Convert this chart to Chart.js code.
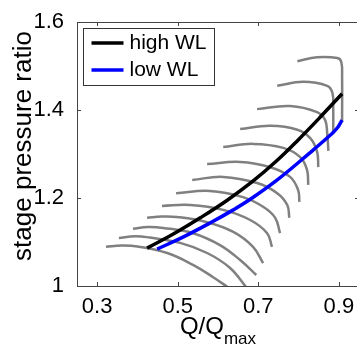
<!DOCTYPE html>
<html>
<head>
    <script src="https://cdn.jsdelivr.net/npm/chart.js@4"></script>
    <style>
        html, body { margin: 0; padding: 0; overflow: hidden; background: #fff; }
    </style>
</head>
<body>
  <canvas id="chart" width="361" height="347"></canvas>
  <script>
    // operating lines (working lines)
    const highWLQ  = [0.424, 0.489, 0.556, 0.623, 0.685, 0.745, 0.799, 0.854, 0.908];
    const highWLPR = [1.086, 1.118, 1.155, 1.195, 1.237, 1.284, 1.332, 1.384, 1.437];
    const lowWLQ   = [0.449, 0.513, 0.580, 0.638, 0.680, 0.747, 0.836, 0.879, 0.896, 0.908];
    const lowWLPR  = [1.084, 1.111, 1.143, 1.173, 1.197, 1.241, 1.309, 1.343, 1.359, 1.377];

    // speed lines, lowest speed first
    const speedQ = [
        [0.322, 0.360, 0.400, 0.474, 0.538, 0.588, 0.628],
        [0.354, 0.394, 0.431, 0.506, 0.573, 0.630, 0.672],
        [0.389, 0.426, 0.464, 0.538, 0.605, 0.655, 0.695],
        [0.424, 0.460, 0.498, 0.573, 0.638, 0.687, 0.712],
        [0.461, 0.531, 0.613, 0.680, 0.722, 0.734],
        [0.496, 0.580, 0.662, 0.712, 0.742, 0.754],
        [0.536, 0.613, 0.697, 0.747, 0.772, 0.777],
        [0.573, 0.655, 0.730, 0.779, 0.799, 0.802],
        [0.613, 0.687, 0.762, 0.804, 0.821, 0.824],
        [0.655, 0.730, 0.797, 0.829, 0.846, 0.849],
        [0.697, 0.779, 0.846, 0.866, 0.871, 0.874],
        [0.747, 0.811, 0.871, 0.884, 0.886, 0.886],
        [0.797, 0.846, 0.896, 0.906, 0.908, 0.908]
    ];
    const speedPR = [
        [1.089, 1.092, 1.090, 1.075, 1.048, 1.020, 0.995],
        [1.109, 1.113, 1.110, 1.098, 1.075, 1.041, 0.995],
        [1.130, 1.134, 1.132, 1.120, 1.093, 1.059, 1.025],
        [1.155, 1.158, 1.157, 1.145, 1.123, 1.089, 1.052],
        [1.182, 1.184, 1.173, 1.150, 1.120, 1.089],
        [1.211, 1.216, 1.202, 1.180, 1.155, 1.120],
        [1.241, 1.248, 1.234, 1.211, 1.184, 1.155],
        [1.277, 1.282, 1.270, 1.248, 1.218, 1.191],
        [1.316, 1.323, 1.314, 1.293, 1.264, 1.230],
        [1.357, 1.364, 1.355, 1.336, 1.305, 1.270],
        [1.402, 1.409, 1.395, 1.377, 1.348, 1.307],
        [1.455, 1.464, 1.455, 1.439, 1.405, 1.345],
        [1.511, 1.520, 1.518, 1.509, 1.475, 1.373]
    ];

    const xTicks = [0.3, 0.5, 0.7, 0.9];
    const xTickLabels = ['0.3', '0.5', '0.7', '0.9'];
    const yTicks = [1, 1.2, 1.4, 1.6];
    const yTickLabels = ['1', '1.2', '1.4', '1.6'];

    const FONT = "'Liberation Sans', Arial, sans-serif";

    function pts(xs, ys) {
        return xs.map((x, i) => ({ x: x, y: ys[i] }));
    }

    const datasets = [
        { label: 'high WL', data: pts(highWLQ, highWLPR), borderColor: '#000000', borderWidth: 3.5, order: 0 },
        { label: 'low WL', data: pts(lowWLQ, lowWLPR), borderColor: '#0000ff', borderWidth: 3.5, order: 0 }
    ];
    speedQ.forEach((q, i) => {
        datasets.push({ label: 'speed ' + (i + 1), data: pts(q, speedPR[i]), borderColor: '#808080', borderWidth: 2.5, order: 1 });
    });

    // box, inward ticks, legend and axis labels (x label has a subscript)
    const matlabLook = {
        id: 'matlabLook',
        afterDraw(chart) {
            const { ctx, chartArea: a, scales: { x, y } } = chart;
            ctx.save();
            ctx.strokeStyle = '#444';
            ctx.lineWidth = 1;
            ctx.strokeRect(a.left + 0.5, a.top + 0.5, a.right - a.left, a.bottom - a.top);
            ctx.beginPath();
            xTicks.forEach(v => {
                const px = Math.round(x.getPixelForValue(v)) + 0.5;
                ctx.moveTo(px, a.bottom); ctx.lineTo(px, a.bottom - 4);
                ctx.moveTo(px, a.top); ctx.lineTo(px, a.top + 4);
            });
            yTicks.forEach(v => {
                const py = Math.round(y.getPixelForValue(v)) + 0.5;
                ctx.moveTo(a.left, py); ctx.lineTo(a.left + 4, py);
                ctx.moveTo(a.right, py); ctx.lineTo(a.right - 4, py);
            });
            ctx.stroke();

            // legend
            const bx = a.left + 6.5, by = a.top + 6.5;
            ctx.fillStyle = '#fff';
            ctx.fillRect(bx, by, 131, 57);
            ctx.strokeStyle = '#333';
            ctx.strokeRect(bx, by, 131, 57);
            ctx.font = '21px ' + FONT;
            ctx.textBaseline = 'middle';
            ctx.textAlign = 'left';
            [0, 1].forEach(i => {
                const ds = chart.data.datasets[i];
                const ly = by + 14.5 + i * 27;
                ctx.strokeStyle = ds.borderColor;
                ctx.lineWidth = 3.5;
                ctx.beginPath();
                ctx.moveTo(bx + 8, ly); ctx.lineTo(bx + 40, ly);
                ctx.stroke();
                ctx.fillStyle = '#000';
                ctx.fillText(ds.label, bx + 46, ly);
            });

            // y axis label
            ctx.save();
            ctx.translate(24, 146);
            ctx.rotate(-Math.PI / 2);
            ctx.font = '26px ' + FONT;
            ctx.textAlign = 'center';
            ctx.textBaseline = 'middle';
            ctx.fillStyle = '#000';
            ctx.fillText('stage pressure ratio', 0, 0);
            ctx.restore();

            // x axis label Q/Q_max
            const main = 'Q/Q', sub = 'max';
            ctx.font = '24px ' + FONT;
            const w1 = ctx.measureText(main).width;
            ctx.font = '17px ' + FONT;
            const w2 = ctx.measureText(sub).width;
            const cx = (a.left + a.right) / 2;
            const sx = cx - (w1 + w2) / 2;
            ctx.textAlign = 'left';
            ctx.textBaseline = 'alphabetic';
            ctx.fillStyle = '#000';
            ctx.font = '24px ' + FONT;
            ctx.fillText(main, sx, chart.height - 13);
            ctx.font = '17px ' + FONT;
            ctx.fillText(sub, sx + w1, chart.height - 3);
            ctx.restore();
        }
    };

    new Chart(document.getElementById('chart'), {
        type: 'line',
        data: { datasets: datasets },
        options: {
            responsive: false,
            animation: false,
            devicePixelRatio: 1,
            layout: { padding: { top: 22, right: 2, left: 0, bottom: 0 } },
            elements: {
                point: { radius: 0 },
                line: { tension: 0.4, fill: false, borderCapStyle: 'butt' }
            },
            plugins: {
                legend: { display: false },
                tooltip: { enabled: false }
            },
            scales: {
                x: {
                    type: 'linear',
                    min: 0.25,
                    max: 0.95,
                    grid: { display: false },
                    border: { display: false },
                    afterBuildTicks: s => { s.ticks = xTicks.map(v => ({ value: v })); },
                    afterFit: s => { s.height = 61; },
                    ticks: {
                        autoSkip: false,
                        maxRotation: 0,
                        padding: 0,
                        color: '#000',
                        font: { family: FONT, size: 22 },
                        callback: (v, i) => xTickLabels[i]
                    }
                },
                y: {
                    type: 'linear',
                    min: 1,
                    max: 1.6,
                    grid: { display: false },
                    border: { display: false },
                    afterBuildTicks: s => { s.ticks = yTicks.map(v => ({ value: v })); },
                    afterFit: s => { s.width = 77; },
                    ticks: {
                        autoSkip: false,
                        padding: 5,
                        color: '#000',
                        font: { family: FONT, size: 22 },
                        callback: (v, i) => yTickLabels[i]
                    }
                }
            }
        },
        plugins: [matlabLook]
    });
  </script>
</body>
</html>
